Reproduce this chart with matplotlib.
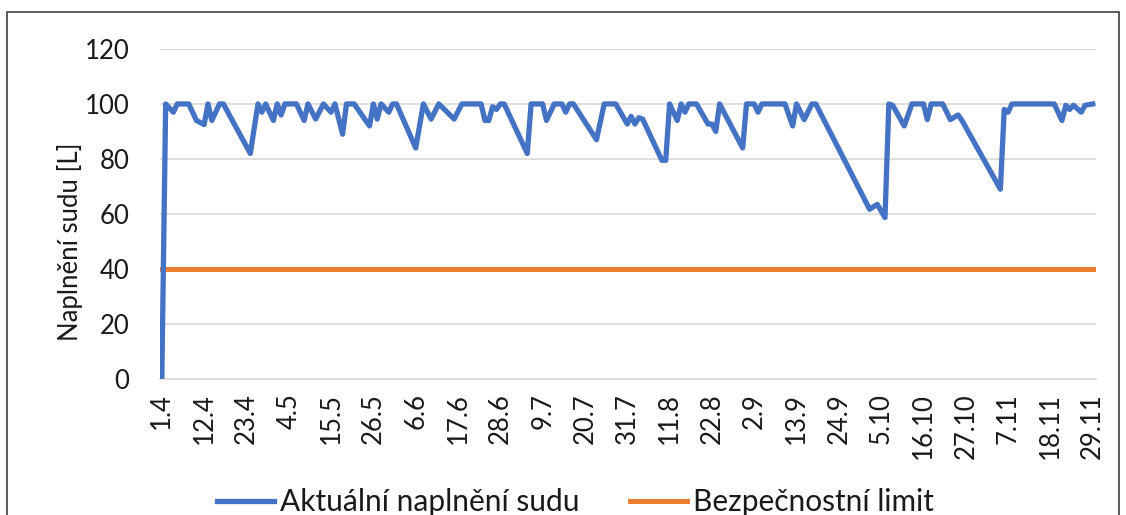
import pandas as pd
import numpy as np
from matplotlib import pyplot as plt
from matplotlib.patches import Rectangle

plt.rcParams['font.family'] = ['Lato', 'DejaVu Sans']

start = pd.Timestamp('2021-04-01')
end = pd.Timestamp('2021-11-29')

# days after 1.4 where the barrel level turns, and the level in litres
fill_days = [0, 1, 3, 4, 7, 9, 11, 12, 13, 15, 16, 23, 25, 26, 27, 29, 30, 31, 32, 35,
             37, 38, 40, 42, 44, 45, 47, 48, 50, 54, 55, 56, 57, 59, 60, 61, 66, 68, 70, 72,
             76, 78, 83, 84, 85, 86, 87, 88, 89, 95, 96, 99, 100, 102, 104, 105, 106, 107, 113, 115,
             118, 121, 122, 123, 124, 125, 130, 131, 132, 134, 135, 136, 137, 139, 142, 143, 144, 145, 151, 152,
             154, 155, 156, 162, 164, 165, 167, 169, 170, 184, 186, 188, 189, 190, 193, 195, 198, 199, 200, 203,
             205, 207, 208, 218, 219, 220, 221, 232, 234, 235, 236, 237, 239, 240, 242]
fill_level = [0, 100, 97, 100, 100, 94, 92.5, 100, 94, 100, 100, 82, 100, 97, 100, 94, 100, 96, 100, 100,
              94, 100, 94.5, 100, 97, 100, 89, 100, 100, 92, 100, 94.5, 100, 97, 100, 100, 84, 100, 94.5, 100,
              94.5, 100, 100, 94, 94, 99, 98, 100, 100, 82, 100, 100, 94, 100, 100, 97, 100, 100, 87, 100,
              100, 92.7, 95.5, 92.7, 95, 94.5, 79.5, 79.5, 100, 94, 100, 97, 100, 100, 92.7, 92.7, 90, 100, 84, 100,
              100, 97, 100, 100, 92, 100, 94.3, 100, 100, 61.7, 63.5, 58.7, 100, 99.5, 92, 100, 100, 94.3, 100, 100,
              94.3, 96, 94, 69, 98, 97, 100, 100, 94, 99.5, 98, 99.5, 97, 99.5, 100]
limit_level = 40
tick_step = 11

fill_dates = start + pd.to_timedelta(fill_days, unit='D')
limit_dates = [start, end]
limit_values = [limit_level, limit_level]
tick_dates = pd.date_range(start, end, freq=f'{tick_step}D')
tick_labels = [f'{d.day}.{d.month}' for d in tick_dates]

fig = plt.figure(figsize=(11.26, 5.15), dpi=100)
ax = fig.add_axes([0.142, 0.264, 0.831, 0.641])

ax.plot(fill_dates, fill_level, color='#4472C4', lw=3.8, solid_joinstyle='round',
        label='Aktuální naplnění sudu', zorder=3)
ax.plot(limit_dates, limit_values, color='#ED7D31', lw=3.6,
        label='Bezpečnostní limit', zorder=2)

ax.set_xlim(start - pd.Timedelta(hours=12), end + pd.Timedelta(hours=18))
ax.set_ylim(0, 120)
ax.set_yticks(np.arange(0, 121, 20))
ax.set_xticks(tick_dates)
ax.set_xticklabels(tick_labels, rotation=90)
ax.tick_params(axis='both', length=0, labelsize=18.5, colors='#1a1a1a')
ax.tick_params(axis='y', pad=22)
ax.tick_params(axis='x', pad=10)
ax.set_ylabel('Naplnění sudu [L]', fontsize=18.5, color='#1a1a1a')
ax.yaxis.set_label_coords(-0.082, 0.415)

ax.grid(axis='y', color='#D9D9D9', lw=1.2)
ax.set_axisbelow(True)
for side in ['top', 'right', 'left']:
    ax.spines[side].set_visible(False)
ax.spines['bottom'].set_color('#D9D9D9')
ax.spines['bottom'].set_linewidth(1.2)

# chart frame running off the bottom edge
fig.patches.append(Rectangle((7 / 1126, -0.05), 1112 / 1126, 1 - 12 / 515 + 0.05,
                             transform=fig.transFigure, fill=False,
                             edgecolor='#404040', lw=1.2))

fig.legend(loc='center', bbox_to_anchor=(0.511, 0.025), ncol=2, frameon=False,
           fontsize=21.5, handlelength=1.9, handletextpad=0.2, columnspacing=1.7,
           labelcolor='#1a1a1a')

fig.savefig('out.png', dpi=100)
